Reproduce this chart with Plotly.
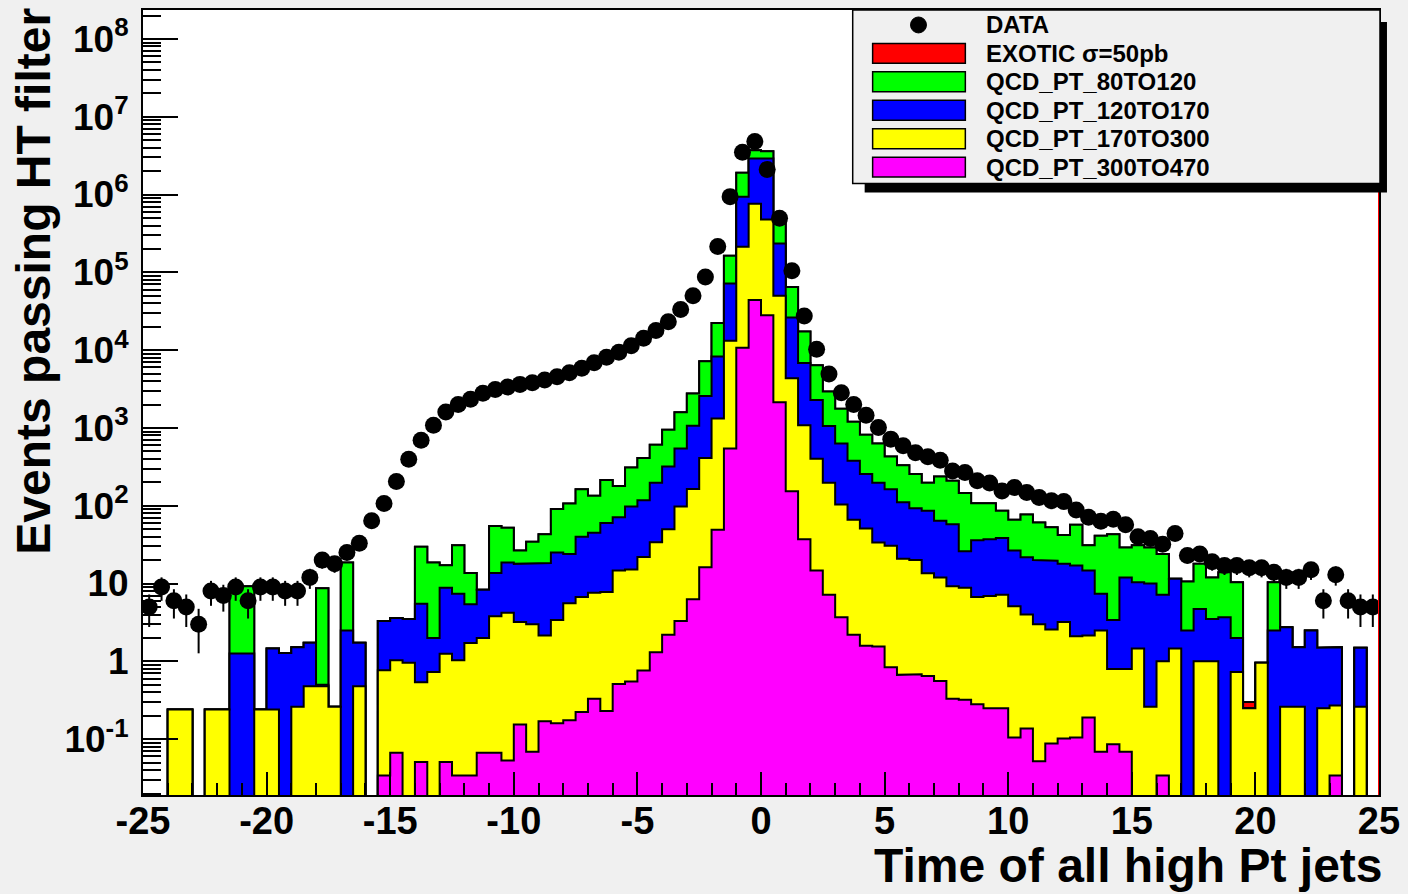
import numpy as np
import plotly.graph_objects as go

# ---------------- data (100 bins of width 0.5 from -25 to 25) ----------------
bin_lo, bin_hi, n_bins = -25.0, 25.0, 100

data_counts = [5, 9, 6, 5, 3, 8, 7, 9, 6, 9,
               9, 8, 8, 12, 20, 18, 25, 33, 64, 107,
               205, 396, 695, 1080, 1600, 2000, 2330, 2790, 3130, 3360,
               3630, 3800, 4120, 4550, 5130, 5840, 6900, 8100, 9400, 11400,
               14200, 17900, 23200, 33200, 50000, 87000, 215000, 940000, 3.5e6, 4.8e6,
               2.1e6, 495000, 105000, 27400, 10300, 4950, 2840, 2000, 1460, 1010,
               718, 590, 480, 425, 385, 280, 267, 209, 196, 155,
               172, 148, 128, 116, 113, 88, 71, 63, 67, 57,
               40, 38, 32, 44, 23, 24, 19, 17, 17, 16,
               16, 14, 12, 12, 15, 6, 13, 6, 5, 5]

# stacked levels (top edge of each coloured layer)
stack_qcd80 = [0, 0, 0.24, 0.24, 0, 0.24, 0.24, 9.2, 9.2, 0.24,
               1.46, 1.28, 1.52, 1.74, 8.7, 0.26, 18.7, 1.74, 0, 3.3,
               3.6, 3.5, 29.8, 18.7, 17.2, 31, 13.7, 8.3, 55, 52,
               26.5, 34.5, 43, 91, 107, 163, 134, 215, 179, 310,
               412, 610, 950, 1590, 2770, 7200, 22400, 163000, 1.9e6, 3.7e6,
               3.6e6, 447000, 65000, 17300, 6400, 2950, 1770, 1200, 815, 630,
               429, 332, 256, 198, 238, 209, 146, 108, 108, 86,
               66, 77, 61, 53, 42, 57, 31, 41, 43, 29,
               31, 29, 24, 11.5, 10.6, 17.9, 12, 14, 10.4, 0.25,
               0.96, 10.4, 2.75, 1.52, 2.5, 1.5, 1.52, 0, 1.5, 0]

stack_qcd120 = [0, 0, 0.24, 0.24, 0, 0.24, 0.24, 1.26, 1.26, 0.24,
                1.46, 1.28, 1.52, 1.74, 0.5, 0.26, 2.5, 1.74, 0, 3.3,
                3.6, 3.5, 5.5, 2.0, 8.8, 7.4, 5.4, 8.3, 13.7, 18.7,
                17.9, 17.9, 18.3, 25, 24, 40, 45, 60, 71, 98,
                118, 198, 320, 543, 1070, 2570, 8300, 72000, 940000, 2.9e6,
                2.9e6, 235000, 26300, 6840, 2290, 1060, 630, 378, 256, 198,
                163, 111, 93, 86, 64, 58, 26, 36, 37, 38.5,
                26.5, 21.7, 20, 19.7, 17.9, 17, 14.7, 7.4, 3.4, 12,
                10.4, 10, 7.2, 11.5, 2.5, 4.7, 3.5, 3.7, 2.0, 0.25,
                0.96, 2.5, 2.75, 1.52, 2.5, 1.5, 1.52, 0, 1.5, 0]

stack_qcd170 = [0, 0, 0.24, 0.24, 0, 0.24, 0.24, 0, 0, 0.24,
                0.24, 0, 0.26, 0.48, 0.48, 0.26, 0, 0.48, 0, 0.77,
                1.03, 0.96, 0.54, 0.73, 1.25, 1.03, 1.72, 1.99, 3.8, 4.2,
                3.2, 3.0, 2.15, 3.4, 5.6, 6.7, 7.6, 7.8, 14.7, 15.2,
                22, 34, 50, 98, 164, 412, 1320, 13200, 213000, 760000,
                476000, 50000, 4350, 1080, 403, 198, 104, 66, 51, 33.6,
                30.7, 20.9, 20, 13.6, 12, 9.2, 8.8, 6.7, 6.9, 7.2,
                5.1, 4.0, 3.0, 2.57, 3.2, 2.1, 2.15, 2.5, 0.8, 0.8,
                1.46, 0.26, 1.0, 1.46, 0, 1.0, 1.0, 0, 0.73, 0.25,
                0.96, 0, 0.26, 0.26, 0, 0.25, 0.27, 0, 0.26, 0]

stack_qcd300 = [0, 0, 0, 0, 0, 0, 0, 0, 0, 0,
                0, 0, 0, 0, 0, 0, 0, 0, 0, 0.034,
                0.067, 0, 0.051, 0, 0.051, 0.034, 0.034, 0.067, 0.067, 0.053,
                0.154, 0.069, 0.17, 0.16, 0.175, 0.224, 0.33, 0.23, 0.51, 0.55,
                0.76, 1.31, 2.2, 3.3, 6.3, 16.2, 49, 543, 10700, 44000,
                28100, 2140, 153, 37, 14.7, 7.2, 3.7, 2.2, 1.59, 1.55,
                0.84, 0.67, 0.68, 0.65, 0.56, 0.33, 0.32, 0.28, 0.25, 0.25,
                0.105, 0.137, 0.052, 0.088, 0.102, 0.105, 0.19, 0.069, 0.086, 0.069,
                0, 0, 0.034, 0, 0, 0, 0, 0, 0, 0,
                0, 0, 0, 0, 0, 0, 0.034, 0, 0, 0]

exotic = [0.0] * 100
exotic[89] = 0.05

series_names = ["EXOTIC σ=50pb", "QCD_PT_80TO120", "QCD_PT_120TO170",
                "QCD_PT_170TO300", "QCD_PT_300TO470"]
series_colors = ["#ff0000", "#00ff00", "#0000ff", "#ffff00", "#ff00ff"]

y_tick_vals = [1e-1, 1, 10, 1e2, 1e3, 1e4, 1e5, 1e6, 1e7, 1e8]
y_tick_text = ["10<sup>-1</sup>", "1", "10", "10<sup>2</sup>", "10<sup>3</sup>",
               "10<sup>4</sup>", "10<sup>5</sup>", "10<sup>6</sup>", "10<sup>7</sup>",
               "10<sup>8</sup>"]
x_tick_vals = list(range(-25, 26, 5))
x_tick_text = [str(v) for v in x_tick_vals]

# ---------------- build ----------------
edges = np.linspace(bin_lo, bin_hi, n_bins + 1)
centers = 0.5 * (edges[:-1] + edges[1:])
floor = 1e-3

stack_exotic = list(np.array(stack_qcd80) + np.array(exotic))
levels = [stack_exotic, stack_qcd80, stack_qcd120, stack_qcd170, stack_qcd300]


def step_polygon(vals):
    xs, ys = [edges[0]], [floor]
    for i, v in enumerate(vals):
        h = v if v > 0 else floor
        xs += [edges[i], edges[i + 1]]
        ys += [h, h]
    xs.append(edges[-1])
    ys.append(floor)
    return xs, ys


FONT = "Liberation Sans, Arial, Helvetica, sans-serif"
fig = go.Figure()
for name, col, lv in zip(series_names, series_colors, levels):
    xs, ys = step_polygon(lv)
    fig.add_trace(go.Scatter(x=xs, y=ys, mode="lines", fill="toself",
                             fillcolor=col, line=dict(color="black", width=2),
                             name=name, hoverinfo="skip", showlegend=False))

dc = np.array(data_counts, dtype=float)
fig.add_trace(go.Scatter(x=centers, y=dc, mode="markers", name="DATA",
                         marker=dict(color="black", size=17),
                         error_y=dict(type="data", array=np.sqrt(dc), visible=True,
                                      width=0, thickness=2, color="black"),
                         showlegend=False))

W, H = 1408, 894
L, R, T, B = 143, 25, 8, 99
pw, ph = W - L - R, H - T - B


def px(x):
    return (x - L) / pw


def py(y):
    return (H - B - y) / ph


shapes = []
# right edge line of the exotic histogram
shapes.append(dict(type="line", xref="x", yref="paper", x0=edges[-1], x1=edges[-1],
                   y0=0, y1=1, line=dict(color="red", width=2), layer="above"))
# legend shadow + box
shapes.append(dict(type="rect", xref="paper", yref="paper", x0=px(867), x1=px(1391),
                   y0=py(191), y1=py(20), fillcolor="black", line=dict(width=0),
                   layer="above"))
shapes.append(dict(type="rect", xref="paper", yref="paper", x0=px(855), x1=px(1384),
                   y0=py(182), y1=py(8), fillcolor="#f0f0f0",
                   line=dict(color="black", width=1.5), layer="above"))
annotations = []
row_y = [23, 51.5, 80, 108.5, 137, 165.5]
leg_labels = ["DATA"] + series_names
leg_colors = [None] + series_colors
for yy, lab, col in zip(row_y, leg_labels, leg_colors):
    if col is None:
        shapes.append(dict(type="circle", xref="paper", yref="paper",
                           x0=px(913), x1=px(929), y0=py(yy + 8), y1=py(yy - 8),
                           fillcolor="black", line=dict(color="black", width=1),
                           layer="above"))
    else:
        shapes.append(dict(type="rect", xref="paper", yref="paper",
                           x0=px(875), x1=px(968), y0=py(yy + 10), y1=py(yy - 10),
                           fillcolor=col, line=dict(color="black", width=1.5),
                           layer="above"))
    annotations.append(dict(text=lab, xref="paper", yref="paper", x=px(987), y=py(yy),
                            xanchor="left", yanchor="middle", showarrow=False,
                            font=dict(family=FONT, size=24, color="black", weight="bold")))

annotations.append(dict(text="Time of all high Pt jets", xref="paper", yref="paper",
                        x=px(1389), y=py(866), xanchor="right", yanchor="middle",
                        showarrow=False,
                        font=dict(family=FONT, size=48, color="black", weight="bold")))
annotations.append(dict(text="Events passing HT filter", xref="paper", yref="paper",
                        x=px(33), y=py(280), xanchor="center", yanchor="middle",
                        textangle=-90, showarrow=False,
                        font=dict(family=FONT, size=48, color="black", weight="bold")))

fig.update_layout(width=W, height=H, margin=dict(l=L, r=R, t=T, b=B, pad=0),
                  paper_bgcolor="#f0f0f0", plot_bgcolor="white", showlegend=False,
                  font=dict(family=FONT, color="black"),
                  shapes=shapes, annotations=annotations)

fig.update_xaxes(range=[bin_lo, bin_hi], tickmode="array", tickvals=x_tick_vals,
                 ticktext=x_tick_text,
                 ticks="inside", ticklen=23, tickwidth=2, tickcolor="black",
                 minor=dict(ticks="inside", ticklen=12, tickwidth=2, tickcolor="black",
                            dtick=1, showgrid=False),
                 showline=True, linewidth=2, linecolor="black", mirror=True,
                 showgrid=False, zeroline=False, ticklabelstandoff=-9,
                 tickfont=dict(family=FONT, size=38, color="black", weight="bold"))
fig.update_yaxes(type="log", range=[-1.718, 8.372], tickmode="array",
                 tickvals=y_tick_vals, ticktext=y_tick_text,
                 ticks="inside", ticklen=35, tickwidth=2, tickcolor="black",
                 minor=dict(ticks="inside", ticklen=18, tickwidth=1.5, tickcolor="black",
                            dtick="D1", showgrid=False),
                 showline=True, linewidth=2, linecolor="black", mirror=True,
                 showgrid=False, zeroline=False, ticklabelstandoff=5,
                 tickfont=dict(family=FONT, size=37, color="black", weight="bold"))

fig.write_html("out.html", config={"displayModeBar": False},
               post_script="document.body.style.margin='0';")
